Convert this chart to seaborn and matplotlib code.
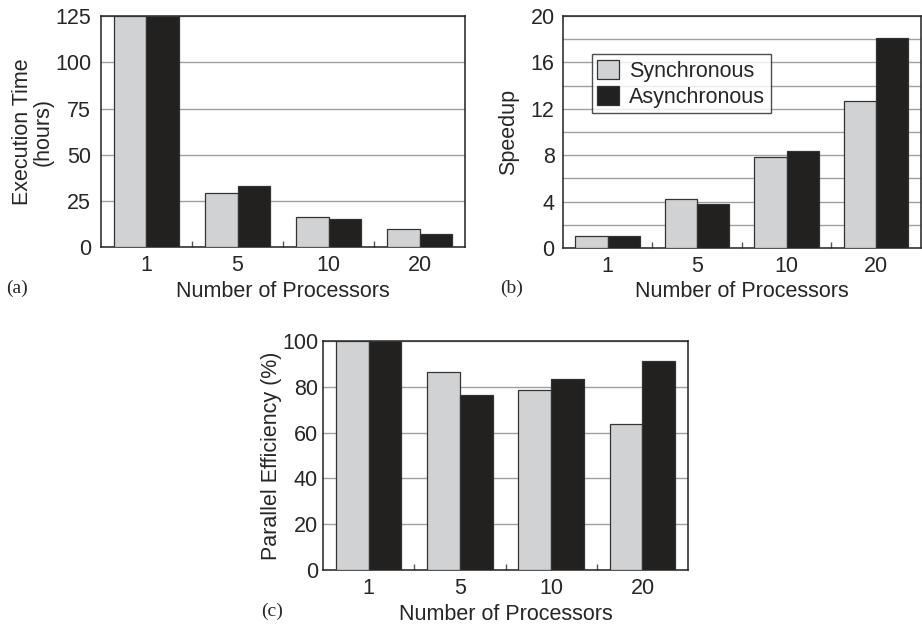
import pandas as pd
import numpy as np
import matplotlib
matplotlib.use("Agg")
import matplotlib.pyplot as plt
import seaborn as sns
from matplotlib.ticker import MultipleLocator, FixedLocator

processors = ["1", "5", "10", "20"]
modes = ["Synchronous", "Asynchronous"]

exec_sync = [125, 29.3, 16.3, 9.8]
exec_async = [125, 33.0, 15.2, 7.1]

speedup_sync = [1.0, 4.26, 7.83, 12.7]
speedup_async = [1.0, 3.8, 8.37, 18.13]

eff_sync = [100, 86.5, 78.5, 63.8]
eff_async = [100, 76.5, 83.3, 91.5]

colors = ["#d1d2d4", "#231f20"]
FS = 15.5

sns.set_style("white")
plt.rcParams["font.family"] = ["Liberation Sans", "DejaVu Sans"]


def long_frame(sync, async_):
    return pd.DataFrame({
        "proc": processors * 2,
        "mode": [modes[0]] * 4 + [modes[1]] * 4,
        "value": list(sync) + list(async_),
    })


def draw_panel(ax, df, ylim, major, ylabel, minor=None, legend=False,
               ypad=7, ylabelpad=5):
    sns.barplot(data=df, x="proc", y="value", hue="mode", order=processors,
                hue_order=modes, palette=colors, width=0.72, gap=0,
                edgecolor="#333333", linewidth=0.9, legend=legend, ax=ax,
                zorder=3)
    ax.set_xlim(-0.5, 3.5)
    ax.set_ylim(*ylim)
    ax.yaxis.set_major_locator(MultipleLocator(major))
    if minor:
        ax.yaxis.set_minor_locator(MultipleLocator(minor))
        ax.grid(True, axis="y", which="both", color="#a0a0a0", lw=1, zorder=0)
    else:
        ax.grid(True, axis="y", which="major", color="#a0a0a0", lw=1, zorder=0)
    ax.set_axisbelow(True)
    ax.xaxis.set_minor_locator(FixedLocator([0.5, 1.5, 2.5]))
    ax.tick_params(axis="x", which="major", length=0, pad=6, labelsize=FS)
    ax.tick_params(axis="x", which="minor", direction="in", length=4, width=1,
                   color="#555555", bottom=True)
    ax.tick_params(axis="y", which="both", direction="in", length=0, pad=ypad,
                   labelsize=FS)
    for s in ax.spines.values():
        s.set_visible(True)
        s.set_color("#222222")
        s.set_linewidth(1.1)
    ax.set_xlabel("Number of Processors", fontsize=FS, labelpad=3)
    ax.set_ylabel(ylabel, fontsize=FS, labelpad=ylabelpad, linespacing=1.0)


fig = plt.figure(figsize=(9.22, 6.27), dpi=100)

ax_a = fig.add_axes([0.1095, 0.606, 0.395, 0.368])
draw_panel(ax_a, long_frame(exec_sync, exec_async), (0, 125), 25,
           "Execution Time\n(hours)", ypad=7, ylabelpad=1)

ax_b = fig.add_axes([0.6106, 0.6045, 0.388, 0.370])
draw_panel(ax_b, long_frame(speedup_sync, speedup_async), (0, 20), 4,
           "Speedup", minor=2, legend=True, ypad=6, ylabelpad=8)
leg = ax_b.legend(loc="upper left", bbox_to_anchor=(0.08, 0.835), fontsize=FS,
                  frameon=True, fancybox=False, edgecolor="#222222",
                  handlelength=1.0, handleheight=1.0, handletextpad=0.5,
                  borderpad=0.25, labelspacing=0.2, borderaxespad=0)
leg.get_frame().set_linewidth(1.0)

ax_c = fig.add_axes([0.3503, 0.0909, 0.396, 0.365])
draw_panel(ax_c, long_frame(eff_sync, eff_async), (0, 100), 20,
           "Parallel Efficiency (%)", ypad=3.5, ylabelpad=0)

for label, x, y in [("(a)", 17, 288), ("(b)", 512, 288), ("(c)", 272, 611)]:
    fig.text(x / 922, 1 - y / 627, label, family=["Liberation Serif", "DejaVu Serif"],
             fontsize=14, ha="center", va="center")

fig.savefig("out.png", dpi=100)
